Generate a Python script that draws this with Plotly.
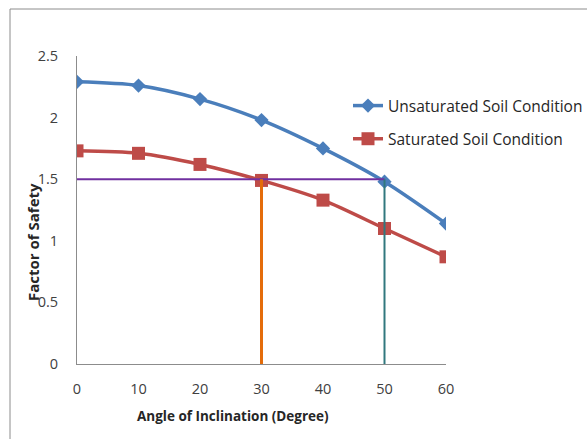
import plotly.graph_objects as go

angles = [0, 10, 20, 30, 40, 50, 60]
unsaturated = [2.29, 2.26, 2.15, 1.98, 1.75, 1.48, 1.14]
saturated = [1.73, 1.71, 1.62, 1.49, 1.33, 1.10, 0.87]

fos_limit = 1.5
crit_sat_angle = 30
crit_unsat_angle = 50

x_ticks = [0, 10, 20, 30, 40, 50, 60]
y_ticks = [0, 0.5, 1, 1.5, 2, 2.5]
y_tick_text = ["0", "0.5", "1", "1.5", "2", "2.5"]

FONT = "Open Sans"

fig = go.Figure()
fig.add_trace(go.Scatter(
    x=angles, y=unsaturated, name="Unsaturated Soil Condition", legendgroup="u",
    mode="lines+markers", line=dict(color="#4A7EBB", width=3.5, shape="spline", smoothing=0.8),
    marker=dict(symbol="diamond", size=11, color="#4A7EBB"),
))
fig.add_trace(go.Scatter(
    x=angles, y=saturated, name="Saturated Soil Condition", legendgroup="s",
    mode="lines+markers", line=dict(color="#BE4B48", width=3.5, shape="spline", smoothing=0.8),
    marker=dict(symbol="square", size=13, color="#BE4B48"),
))
# reference lines
fig.add_trace(go.Scatter(
    x=[0, crit_unsat_angle], y=[fos_limit, fos_limit], mode="lines",
    line=dict(color="#7030A0", width=2), showlegend=False, hoverinfo="skip"))
fig.add_trace(go.Scatter(
    x=[crit_sat_angle, crit_sat_angle], y=[0, fos_limit], mode="lines",
    line=dict(color="#E46C0A", width=3), showlegend=False, hoverinfo="skip"))
fig.add_trace(go.Scatter(
    x=[crit_unsat_angle, crit_unsat_angle], y=[0, fos_limit], mode="lines",
    line=dict(color="#31787E", width=2), showlegend=False, hoverinfo="skip"))

L, R, T, B = 77, 141, 56, 75
W, H = 587, 439
pw = W - L - R
ph = H - T - B

def px_to_paper_x(px):
    return (px - L) / pw

def px_to_paper_y(py):
    return (H - B - py) / ph

fig.update_layout(
    width=W, height=H,
    margin=dict(l=L, r=R, t=T, b=B, pad=0, autoexpand=False),
    paper_bgcolor="white", plot_bgcolor="white",
    font=dict(family=FONT, color="#404040", size=14),
    showlegend=True,
    legend=dict(
        x=px_to_paper_x(348), y=px_to_paper_y(89), xanchor="left", yanchor="top",
        bgcolor="rgba(0,0,0,0)", font=dict(family=FONT, size=15.5, color="#262626"),
        itemwidth=30, traceorder="grouped", tracegroupgap=10,
    ),
    xaxis=dict(
        range=[0, 60], tickvals=x_ticks, showgrid=False, zeroline=False,
        showline=True, linecolor="#8C8C8C", linewidth=1,
        ticks="outside", ticklen=12, tickcolor="rgba(0,0,0,0)",
        tickfont=dict(family=FONT, size=14.5, color="#404040"),
    ),
    yaxis=dict(
        range=[0, 2.5], tickvals=y_ticks, ticktext=y_tick_text, showgrid=False, zeroline=False,
        showline=True, linecolor="#8C8C8C", linewidth=1,
        ticks="outside", ticklen=15, tickcolor="rgba(0,0,0,0)",
        tickfont=dict(family=FONT, size=14.5, color="#404040"),
    ),
    annotations=[
        dict(
            text="<b>Factor of Safety</b>", textangle=-90, showarrow=False,
            xref="paper", yref="paper", x=px_to_paper_x(33), y=px_to_paper_y(242),
            xanchor="center", yanchor="middle",
            font=dict(family=FONT, size=15, color="#262626"),
        ),
        dict(
            text="<b>Angle of Inclination (Degree)</b>", showarrow=False,
            xref="paper", yref="paper", x=px_to_paper_x(233), y=px_to_paper_y(416),
            xanchor="center", yanchor="middle",
            font=dict(family=FONT, size=13.5, color="#262626"),
        ),
    ],
    shapes=[dict(
        type="rect", xref="paper", yref="paper", layer="below",
        x0=px_to_paper_x(10), x1=px_to_paper_x(620),
        y0=px_to_paper_y(470), y1=px_to_paper_y(9),
        line=dict(color="#8C8C8C", width=1), fillcolor="rgba(0,0,0,0)",
    )],
)

fig.write_html("out.html")
